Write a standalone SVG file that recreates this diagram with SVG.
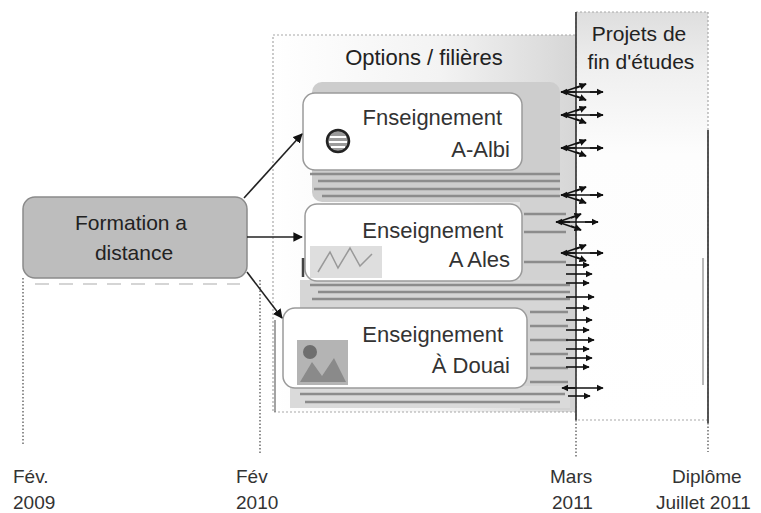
<svg xmlns="http://www.w3.org/2000/svg" width="761" height="513" viewBox="0 0 761 513">
  <defs>
    <linearGradient id="optFill" x1="0" y1="0" x2="1" y2="0">
      <stop offset="0" stop-color="#ffffff"/>
      <stop offset="0.55" stop-color="#f3f3f3"/>
      <stop offset="1" stop-color="#d6d6d6"/>
    </linearGradient>
    <linearGradient id="projFill" x1="0" y1="0" x2="0" y2="1">
      <stop offset="0" stop-color="#dedede"/>
      <stop offset="0.15" stop-color="#f0f0f0"/>
      <stop offset="0.35" stop-color="#fdfdfd"/>
      <stop offset="1" stop-color="#ffffff"/>
    </linearGradient>
    <marker id="ah" viewBox="0 0 10 10" refX="9" refY="5" markerWidth="4.5" markerHeight="4.5" orient="auto-start-reverse">
      <path d="M0,0 L10,5 L0,10 z" fill="#111"/>
    </marker>
    <marker id="ahc" viewBox="0 0 10 10" refX="9" refY="5" markerWidth="6" markerHeight="6" orient="auto">
      <path d="M0,0 L10,5 L0,10 z" fill="#111"/>
    </marker>
    <style>
      text { font-family: "Liberation Sans", Arial, sans-serif; fill: #222; }
      .lbl { font-size: 21px; }
      .box { font-size: 22px; fill: #333; }
      .tl { font-size: 19px; fill: #333; }
      .frame { stroke: #a8a8a8; stroke-width: 1.2; stroke-dasharray: 2 2; }
      .node { fill: #ffffff; stroke: #9a9a9a; stroke-width: 1.5; }
      .band { fill: none; stroke: #8c8c8c; stroke-width: 2.5; }
      .conn { stroke: #222; stroke-width: 1.6; fill: none; }
      .tick { stroke: #555; stroke-width: 1.3; stroke-dasharray: 1.5 2; fill: none; }
      .solid { stroke: #444; stroke-width: 1.8; fill: none; }
      .fan { stroke: #111; stroke-width: 1.6; fill: none; }
    </style>
  </defs>

  <!-- timeline guides -->
  <g id="timeline">
    <line class="tick" x1="23" y1="278" x2="23" y2="446"/>
    <line class="tick" x1="260" y1="280" x2="260" y2="454"/>
    <line class="tick" x1="576" y1="420" x2="576" y2="458"/>
    <line class="tick" x1="708" y1="423" x2="708" y2="452"/>
    <text class="tl" x="13" y="483">Fév.</text>
    <text class="tl" x="13" y="509">2009</text>
    <text class="tl" x="236" y="483">Fév</text>
    <text class="tl" x="236" y="509">2010</text>
    <text class="tl" x="550" y="483">Mars</text>
    <text class="tl" x="552" y="509">2011</text>
    <text class="tl" x="672" y="483">Diplôme</text>
    <text class="tl" x="656" y="509">Juillet 2011</text>
  </g>

  <!-- Options / filières frame -->
  <g id="node-options">
    <rect class="frame" x="273" y="35" width="303" height="377" fill="url(#optFill)"/>
    <text class="lbl" x="424" y="65" text-anchor="middle" style="font-size:22px">Options / filières</text>
  </g>

  <!-- Projets de fin d'études frame -->
  <g id="node-projets">
    <rect class="frame" x="576" y="12" width="132" height="408" fill="url(#projFill)"/>
    <line class="solid" x1="576" y1="12" x2="576" y2="420"/>
    <line class="solid" x1="708" y1="130" x2="708" y2="423"/>
    <line x1="703" y1="258" x2="703" y2="385" stroke="#b8b8b8" stroke-width="2"/>
    <text class="lbl" x="639" y="41" text-anchor="middle">Projets de</text>
    <text class="lbl" x="641" y="69" text-anchor="middle">fin d'études</text>
  </g>

  <!-- stacked layers behind the option boxes -->
  <g id="layers">
    <rect x="312" y="82" width="248" height="120" rx="10" fill="#cdcdcd"/>
    <rect x="520" y="195" width="55" height="215" fill="#d2d2d2"/>
    <rect x="300" y="280" width="270" height="30" fill="#d6d6d6"/>
    <rect x="290" y="386" width="280" height="22" fill="#dadada"/>
    <line class="band" x1="310" y1="174" x2="560" y2="174"/>
    <line class="band" x1="318" y1="181" x2="560" y2="181"/>
    <line class="band" x1="314" y1="189" x2="560" y2="189"/>
    <line class="band" x1="322" y1="196" x2="560" y2="196"/>
    <line class="band" x1="310" y1="285" x2="570" y2="285"/>
    <line class="band" x1="318" y1="292" x2="570" y2="292"/>
    <line class="band" x1="312" y1="299" x2="570" y2="299"/>
    <line class="band" x1="300" y1="394" x2="565" y2="394"/>
    <line class="band" x1="305" y1="402" x2="560" y2="402"/>
    <line class="band" x1="524" y1="214" x2="566" y2="214"/>
    <line class="band" x1="524" y1="232" x2="566" y2="232"/>
    <line class="band" x1="524" y1="262" x2="566" y2="262"/>
    <line class="band" x1="530" y1="312" x2="568" y2="312"/>
    <line class="band" x1="530" y1="326" x2="568" y2="326"/>
    <line class="band" x1="530" y1="340" x2="568" y2="340"/>
    <line class="band" x1="530" y1="354" x2="568" y2="354"/>
    <line class="band" x1="530" y1="368" x2="568" y2="368"/>
    <line class="band" x1="530" y1="382" x2="568" y2="382"/>
    <line x1="275" y1="320" x2="275" y2="412" stroke="#666" stroke-width="1.2"/>
  </g>

  <!-- Enseignement à Albi -->
  <g id="node-albi">
    <rect class="node" x="303" y="93" width="219" height="77" rx="12"/>
    <circle cx="338" cy="141" r="11" fill="#9a9a9a" stroke="#222" stroke-width="2.5"/>
    <line x1="330" y1="137" x2="346" y2="137" stroke="#fff" stroke-width="2"/>
    <line x1="329" y1="142" x2="347" y2="142" stroke="#fff" stroke-width="2"/>
    <line x1="331" y1="147" x2="345" y2="147" stroke="#fff" stroke-width="2"/>
    <text class="box" x="502" y="125" text-anchor="end">Fnseignement</text>
    <text class="box" x="510" y="157" text-anchor="end">A-Albi</text>
  </g>

  <!-- Enseignement à Alès -->
  <g id="node-ales">
    <rect class="node" x="305" y="204" width="217" height="77" rx="12"/>
    <rect x="310" y="246" width="72" height="32" fill="#dedede"/>
    <path d="M318,272 L330,252 L338,268 L350,248 L360,266 L372,254" stroke="#999" stroke-width="1.5" fill="none"/>
    <line x1="303" y1="258" x2="303" y2="277" stroke="#444" stroke-width="2.5"/>
    <text class="box" x="503" y="238" text-anchor="end">Enseignement</text>
    <text class="box" x="510" y="267" text-anchor="end">A Ales</text>
  </g>

  <!-- Enseignement à Douai -->
  <g id="node-douai">
    <rect class="node" x="283" y="308" width="244" height="80" rx="12"/>
    <rect x="297" y="340" width="51" height="45" fill="#b4b4b4"/>
    <circle cx="310" cy="352" r="7" fill="#6e6e6e"/>
    <path d="M300,382 L312,362 L322,376 L334,358 L346,382 z" fill="#8a8a8a"/>
    <text class="box" x="503" y="342" text-anchor="end">Enseignement</text>
    <text class="box" x="510" y="373" text-anchor="end">À Douai</text>
  </g>

  <!-- Formation à distance -->
  <g id="node-formation">
    <rect x="23" y="197" width="224" height="81" rx="12" fill="#bdbdbd" stroke="#8a8a8a" stroke-width="1.5"/>
    <line x1="35" y1="284" x2="240" y2="284" stroke="#c8c8c8" stroke-width="1.5" stroke-dasharray="14 10"/>
    <text class="lbl" x="131" y="230" text-anchor="middle">Formation a</text>
    <text class="lbl" x="134" y="260" text-anchor="middle">distance</text>
  </g>

  <!-- connectors -->
  <g id="connectors">
    <line class="conn" x1="244" y1="198" x2="302" y2="134" marker-end="url(#ahc)"/>
    <line class="conn" x1="247" y1="237" x2="302" y2="237" marker-end="url(#ahc)"/>
    <line class="conn" x1="247" y1="272" x2="282" y2="318" marker-end="url(#ahc)"/>

    <g id="pfe-arrows">
      <path class="fan" d="M561,92 L603,92 M563,92 L586,84 M563,92 L586,100"/>
      <line class="fan" x1="575" y1="92" x2="561" y2="92" marker-end="url(#ah)"/>
      <line class="fan" x1="590" y1="92" x2="603" y2="92" marker-end="url(#ah)"/>
      <line class="fan" x1="576" y1="88" x2="586" y2="84" marker-end="url(#ah)"/>
      <line class="fan" x1="576" y1="96" x2="586" y2="100" marker-end="url(#ah)"/>

      <path class="fan" d="M561,115 L603,115 M563,115 L586,107 M563,115 L586,123"/>
      <line class="fan" x1="575" y1="115" x2="561" y2="115" marker-end="url(#ah)"/>
      <line class="fan" x1="590" y1="115" x2="603" y2="115" marker-end="url(#ah)"/>
      <line class="fan" x1="576" y1="111" x2="586" y2="107" marker-end="url(#ah)"/>
      <line class="fan" x1="576" y1="119" x2="586" y2="123" marker-end="url(#ah)"/>

      <path class="fan" d="M561,148 L603,148 M563,148 L586,140 M563,148 L586,156"/>
      <line class="fan" x1="575" y1="148" x2="561" y2="148" marker-end="url(#ah)"/>
      <line class="fan" x1="590" y1="148" x2="603" y2="148" marker-end="url(#ah)"/>
      <line class="fan" x1="576" y1="144" x2="586" y2="140" marker-end="url(#ah)"/>
      <line class="fan" x1="576" y1="152" x2="586" y2="156" marker-end="url(#ah)"/>

      <path class="fan" d="M561,195 L603,195 M563,195 L586,187 M563,195 L586,203"/>
      <line class="fan" x1="575" y1="195" x2="561" y2="195" marker-end="url(#ah)"/>
      <line class="fan" x1="590" y1="195" x2="603" y2="195" marker-end="url(#ah)"/>
      <line class="fan" x1="576" y1="191" x2="586" y2="187" marker-end="url(#ah)"/>
      <line class="fan" x1="576" y1="199" x2="586" y2="203" marker-end="url(#ah)"/>

      <path class="fan" d="M556,222 L598,222 M558,222 L581,214 M558,222 L581,230"/>
      <line class="fan" x1="570" y1="222" x2="556" y2="222" marker-end="url(#ah)"/>
      <line class="fan" x1="585" y1="222" x2="598" y2="222" marker-end="url(#ah)"/>
      <line class="fan" x1="571" y1="218" x2="581" y2="214" marker-end="url(#ah)"/>
      <line class="fan" x1="571" y1="226" x2="581" y2="230" marker-end="url(#ah)"/>

      <path class="fan" d="M561,253 L603,253 M563,253 L586,245 M563,253 L586,261"/>
      <line class="fan" x1="575" y1="253" x2="561" y2="253" marker-end="url(#ah)"/>
      <line class="fan" x1="590" y1="253" x2="603" y2="253" marker-end="url(#ah)"/>
      <line class="fan" x1="576" y1="249" x2="586" y2="245" marker-end="url(#ah)"/>
      <line class="fan" x1="576" y1="257" x2="586" y2="261" marker-end="url(#ah)"/>

      <line class="fan" x1="566" y1="265" x2="589" y2="265" marker-end="url(#ah)"/>
      <line class="fan" x1="566" y1="274" x2="592" y2="274" marker-end="url(#ah)"/>
      <line class="fan" x1="566" y1="283" x2="589" y2="283" marker-end="url(#ah)"/>
      <line class="fan" x1="566" y1="297" x2="594" y2="297" marker-end="url(#ah)"/>
      <line class="fan" x1="566" y1="308" x2="589" y2="308" marker-end="url(#ah)"/>
      <line class="fan" x1="566" y1="320" x2="592" y2="320" marker-end="url(#ah)"/>
      <line class="fan" x1="566" y1="330" x2="589" y2="330" marker-end="url(#ah)"/>
      <line class="fan" x1="566" y1="340" x2="594" y2="340" marker-end="url(#ah)"/>
      <line class="fan" x1="566" y1="349" x2="589" y2="349" marker-end="url(#ah)"/>
      <line class="fan" x1="566" y1="358" x2="592" y2="358" marker-end="url(#ah)"/>
      <line class="fan" x1="566" y1="367" x2="589" y2="367" marker-end="url(#ah)"/>
      <line class="fan" x1="575" y1="388" x2="562" y2="388" marker-end="url(#ah)"/>
      <line class="fan" x1="566" y1="388" x2="603" y2="388" marker-end="url(#ah)"/>
      <line class="fan" x1="568" y1="396" x2="590" y2="396" marker-end="url(#ah)"/>
    </g>
  </g>
</svg>
